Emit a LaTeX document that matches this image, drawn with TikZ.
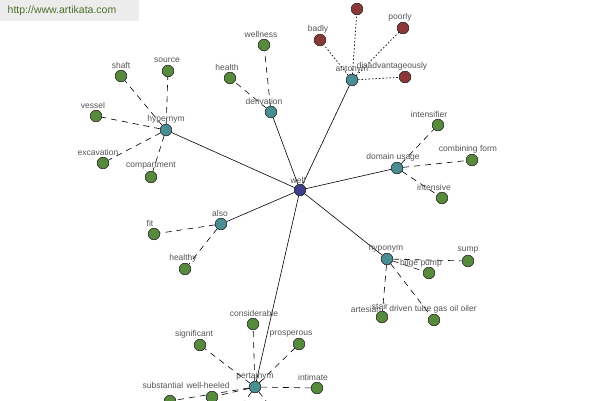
\documentclass[tikz,border=0pt]{standalone}
\usepackage{fontspec}
\setmainfont{Liberation Sans}
\definecolor{leafg}{RGB}{88,138,62}
\definecolor{leafr}{RGB}{140,56,56}
\definecolor{relt}{RGB}{72,142,146}
\definecolor{rootb}{RGB}{62,62,140}
\definecolor{txtg}{RGB}{85,85,85}
\definecolor{urlg}{RGB}{78,112,44}
\definecolor{hdrbg}{RGB}{236,236,236}
\tikzset{
  dot/.style={circle,draw=black!80,line width=0.5pt,minimum size=11.5pt,inner sep=0pt},
  leaf/.style={dot,fill=leafg},
  rleaf/.style={dot,fill=leafr},
  rel/.style={dot,fill=relt},
  root/.style={dot,fill=rootb},
  lbl/.style={font=\fontsize{8.5}{9}\selectfont,text=txtg,inner sep=0pt},
  main/.style={draw=black,line width=0.6pt},
  dsh/.style={draw=black,line width=0.6pt,dash pattern=on 6pt off 5pt},
  dtt/.style={draw=black,line width=0.7pt,dash pattern=on 1.5pt off 2pt},
}
\begin{document}
\begin{tikzpicture}[x=1pt,y=-1pt]
\useasboundingbox (0,0) rectangle (600,400);
\clip (0,0) rectangle (600,400);
\fill[white] (0,0) rectangle (600,400);
% header
\fill[hdrbg] (0,0) rectangle (139,21);
\node[font=\fontsize{10.5}{11}\selectfont,text=urlg,inner sep=0pt] (url) at (62,11) {http://www.artikata.com};
% nodes
\node[root] (well) at (300,190) {};
\node[rel] (hyper) at (166,130) {};
\node[rel] (deriv) at (271,112) {};
\node[rel] (anto) at (352,80) {};
\node[rel] (domain) at (397,168) {};
\node[rel] (also) at (221,224) {};
\node[rel] (hypo) at (387,259) {};
\node[rel] (pert) at (255,387) {};
\node[leaf] (shaft) at (121,76) {};
\node[leaf] (source) at (168,71) {};
\node[leaf] (vessel) at (96,116) {};
\node[leaf] (excav) at (103,163) {};
\node[leaf] (compart) at (151,177) {};
\node[leaf] (wellness) at (264,45) {};
\node[leaf] (health) at (230,78) {};
\node[rleaf] (badly) at (320,40) {};
\node[rleaf] (ill) at (357,9) {};
\node[rleaf] (poorly) at (403,28) {};
\node[rleaf] (disadv) at (405,77) {};
\node[leaf] (intens) at (438,125) {};
\node[leaf] (comb) at (472,160) {};
\node[leaf] (intensive) at (442,198) {};
\node[leaf] (fit) at (154,234) {};
\node[leaf] (healthy) at (185,269) {};
\node[leaf] (bilge) at (429,273) {};
\node[leaf] (sump) at (468,261) {};
\node[leaf] (stair) at (382,317) {};
\node[leaf] (tube) at (434,320) {};
\node[leaf] (consid) at (253,324) {};
\node[leaf] (signif) at (200,345) {};
\node[leaf] (prosp) at (299,344) {};
\node[leaf] (intim) at (317,388) {};
\node[leaf] (heeled) at (212,397) {};
\node[leaf] (subst) at (170,401) {};
\node[leaf] (offa) at (228,425) {};
\node[leaf] (offb) at (285,425) {};
% edges
\foreach \t in {hyper,deriv,anto,domain,also,hypo,pert} \draw[main] (well) -- (\t);
\foreach \t in {shaft,source,vessel,excav,compart} \draw[dsh] (hyper) -- (\t);
\foreach \t in {wellness,health} \draw[dsh] (deriv) -- (\t);
\foreach \t in {badly,ill,poorly,disadv} \draw[dtt] (anto) -- (\t);
\foreach \t in {intens,comb,intensive} \draw[dsh] (domain) -- (\t);
\foreach \t in {fit,healthy} \draw[dsh] (also) -- (\t);
\foreach \t in {bilge,sump,stair,tube} \draw[dsh] (hypo) -- (\t);
\foreach \t in {consid,signif,prosp,intim,heeled,subst,offa,offb} \draw[dsh] (pert) -- (\t);
% redraw circles on top of the edges
\foreach \n/\s in {well/root,hyper/rel,deriv/rel,anto/rel,domain/rel,also/rel,hypo/rel,pert/rel}
  \node[\s] at (\n) {};
\foreach \n in {shaft,source,vessel,excav,compart,wellness,health,intens,comb,intensive,fit,healthy,bilge,sump,stair,tube,consid,signif,prosp,intim,heeled,subst,offa,offb}
  \node[leaf] at (\n) {};
\foreach \n in {badly,ill,poorly,disadv}
  \node[rleaf] at (\n) {};
% labels
\node[lbl] (l-well) at (298,180) {well};
\node[lbl] (l-hyper) at (166,119) {hypernym};
\node[lbl] (l-deriv) at (264,101) {derivation};
\node[lbl] (l-anto) at (352,70) {antonym};
\node[lbl] (l-domain) at (393,157) {domain usage};
\node[lbl] (l-also) at (220,213) {also};
\node[lbl] (l-hypo) at (386,248) {hyponym};
\node[lbl] (l-pert) at (255,376) {pertainym};
\node[lbl] (l-shaft) at (121,65) {shaft};
\node[lbl] (l-source) at (167,60) {source};
\node[lbl] (l-vessel) at (93,105) {vessel};
\node[lbl] (l-excav) at (98,152) {excavation};
\node[lbl] (l-compart) at (151,166) {compartment};
\node[lbl] (l-wellness) at (261,34) {wellness};
\node[lbl] (l-health) at (227,67) {health};
\node[lbl] (l-badly) at (318,29) {badly};
\node[lbl] (l-ill) at (357,-4) {ill};
\node[lbl] (l-poorly) at (400,17) {poorly};
\node[lbl] (l-disadv) at (392,66) {disadvantageously};
\node[lbl] (l-intens) at (429,114) {intensifier};
\node[lbl] (l-comb) at (468,149) {combining form};
\node[lbl] (l-intensive) at (434,187) {intensive};
\node[lbl] (l-fit) at (150,223) {fit};
\node[lbl] (l-healthy) at (183,258) {healthy};
\node[lbl] (l-bilge) at (421,263) {bilge pump};
\node[lbl] (l-sump) at (468,250) {sump};
\node[lbl] (l-art) at (366,309) {artesian};
\node[lbl] (l-stair) at (380,306) {stair};
\node[lbl] (l-tube) at (433,309) {driven tube gas oil oiler};
\node[lbl] (l-consid) at (254,313) {considerable};
\node[lbl] (l-signif) at (194,334) {significant};
\node[lbl] (l-prosp) at (291,334) {prosperous};
\node[lbl] (l-intim) at (313,377) {intimate};
\node[lbl] (l-heeled) at (208,385) {well-heeled};
\node[lbl] (l-subst) at (163,385) {substantial};
\end{tikzpicture}
\end{document}
